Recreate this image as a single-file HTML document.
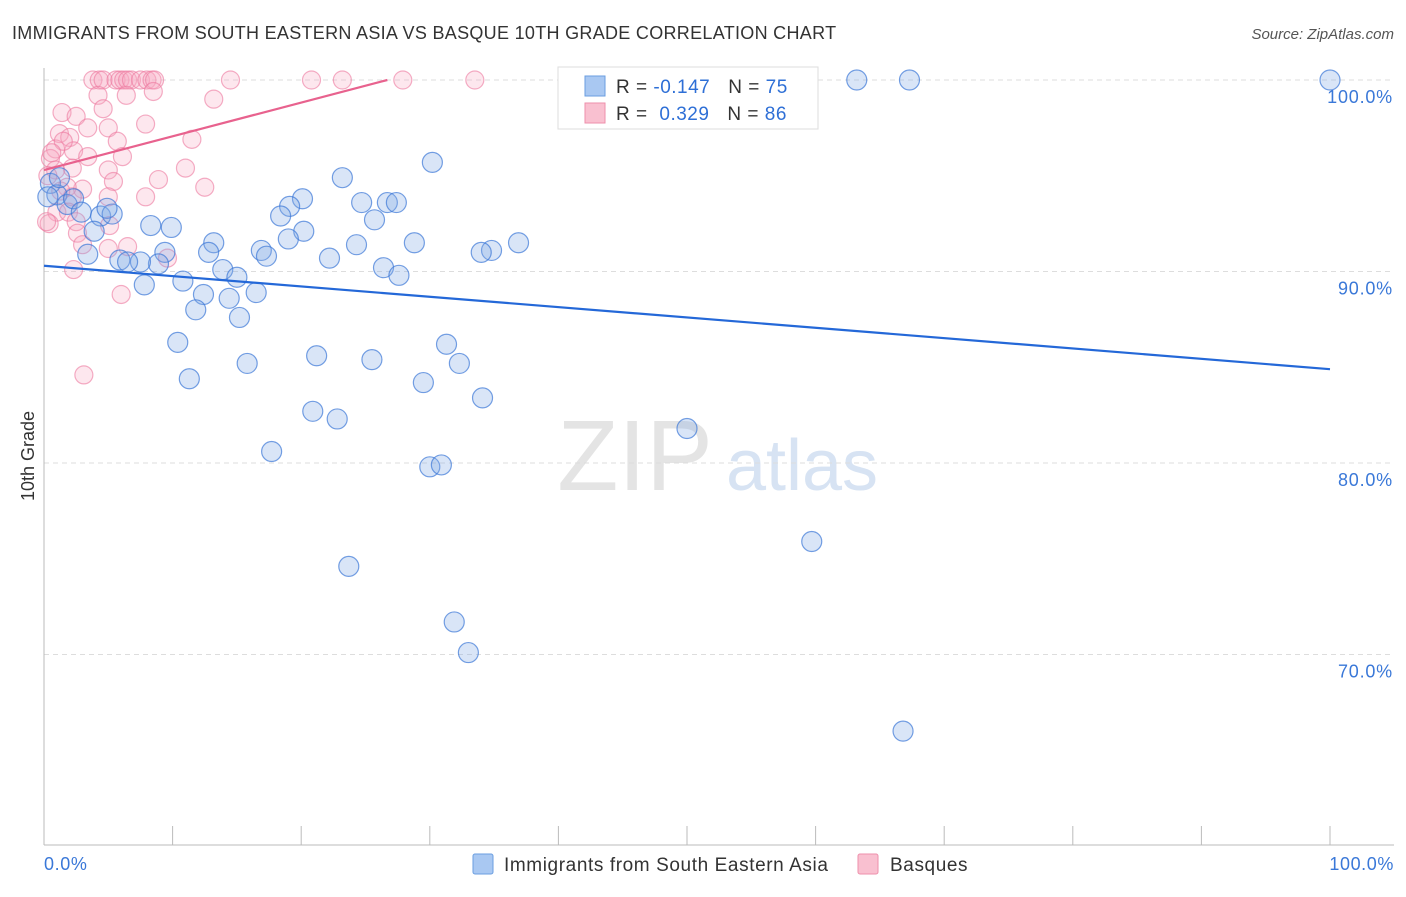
<!DOCTYPE html>
<html><head><meta charset="utf-8"><style>
body{margin:0;background:#fff;font-family:"Liberation Sans",sans-serif;}
svg text{font-family:"Liberation Sans",sans-serif;}
</style></head><body>
<svg id="chart" width="1406" height="892" xmlns="http://www.w3.org/2000/svg">
<text x="12" y="39" font-size="18" fill="#333" letter-spacing="0.3">IMMIGRANTS FROM SOUTH EASTERN ASIA VS BASQUE 10TH GRADE CORRELATION CHART</text>
<text x="1394" y="39" font-size="15" fill="#555" text-anchor="end" font-style="italic">Source: ZipAtlas.com</text>
<text x="34" y="456" font-size="18" fill="#333" text-anchor="middle" transform="rotate(-90 34 456)">10th Grade</text>
<g>
<text x="635" y="490" font-size="100" fill="#e4e4e4" font-family="Liberation Serif" text-anchor="middle">ZIP</text>
<text x="802" y="490" font-size="72" fill="#d7e3f3" text-anchor="middle">atlas</text>
</g>
<g id="grid"></g><g id="axes"></g><g id="pts"></g><g id="lines"></g>
<g>
<rect x="558" y="67" width="260" height="62" fill="#fff" stroke="#ddd"/>
<rect x="585" y="76" width="20" height="20" fill="#a9c8f2" stroke="#6a9ee0"/>
<rect x="585" y="103" width="20" height="20" fill="#f9c0d0" stroke="#ee8fab"/>
<text x="616" y="93" font-size="19" fill="#333" letter-spacing="0.5">R = <tspan fill="#2e6fd6">-0.147</tspan><tspan dx="18">N = </tspan><tspan fill="#2e6fd6">75</tspan></text>
<text x="616" y="120" font-size="19" fill="#333" letter-spacing="0.5">R = <tspan dx="6" fill="#2e6fd6">0.329</tspan><tspan dx="18">N = </tspan><tspan fill="#2e6fd6">86</tspan></text>
</g>
<g>
<rect x="473" y="854" width="20" height="20" fill="#a9c8f2" stroke="#6a9ee0" rx="2"/>
<text x="504" y="871" font-size="19" fill="#333" letter-spacing="0.6">Immigrants from South Eastern Asia</text>
<rect x="858" y="854" width="20" height="20" fill="#f9c0d0" stroke="#ee8fab" rx="2"/>
<text x="890" y="871" font-size="19" fill="#333" letter-spacing="0.6">Basques</text>
</g>
</svg>
<script>
const yTicks=[100,90,80,70];
const xTickLabels=["0.0%","100.0%"];
const blueX=[100,63.2,67.3,43.1,30.2,23.2,20.1,19.1,24.7,26.7,27.4,25.7,18.4,20.2,19.0,24.3,28.8,36.9,34.8,34.0,16.9,17.3,22.2,26.4,27.6,13.2,12.8,9.4,9.9,8.3,13.9,15.0,10.8,12.4,14.4,16.5,7.8,8.9,7.5,5.9,6.5,11.8,15.2,10.4,21.2,25.5,15.8,31.3,32.3,29.5,11.3,34.1,20.9,22.8,50.0,17.7,30.0,30.9,59.7,23.7,31.9,33.0,66.8,0.5,1.0,1.8,2.3,2.9,4.4,5.3,4.9,3.9,3.4,1.2,0.3];
const blueY=[100,100,100,99.9,95.7,94.9,93.8,93.4,93.6,93.6,93.6,92.7,92.9,92.1,91.7,91.4,91.5,91.5,91.1,91.0,91.1,90.8,90.7,90.2,89.8,91.5,91.0,91.0,92.3,92.4,90.1,89.7,89.5,88.8,88.6,88.9,89.3,90.4,90.5,90.6,90.5,88.0,87.6,86.3,85.6,85.4,85.2,86.2,85.2,84.2,84.4,83.4,82.7,82.3,81.8,80.6,79.8,79.9,75.9,74.6,71.7,70.1,66.0,94.6,94.0,93.5,93.8,93.1,92.9,93.0,93.3,92.1,90.9,94.9,93.9];
const pinkX=[3.8,4.3,4.6,5.6,5.9,6.2,6.5,6.8,7.5,8.0,8.4,8.6,14.5,20.8,23.2,27.9,33.5,4.2,6.4,8.5,13.2,4.6,1.4,2.5,3.4,5.0,7.9,5.7,11.5,1.2,2.0,2.3,0.9,1.5,0.5,0.6,3.4,6.1,11.0,5.0,2.2,0.9,8.9,5.4,12.5,3.0,1.8,7.9,5.0,2.2,1.0,1.9,5.1,2.5,2.6,0.4,3.0,5.0,6.5,9.6,2.3,6.0,3.1,0.2,0.3,1.3];
const pinkY=[100,100,100,100,100,100,100,100,100,100,100,100,100,100,100,100,100,99.2,99.2,99.4,99.0,98.5,98.3,98.1,97.5,97.5,97.7,96.8,96.9,97.2,97.0,96.3,96.4,96.8,95.9,96.2,96.0,96.0,95.4,95.3,95.4,95.3,94.8,94.7,94.4,94.3,94.4,93.9,93.9,93.9,93.1,93.1,92.4,92.6,92.0,92.5,91.4,91.2,91.3,90.7,90.1,88.8,84.6,92.6,95.0,94.2];
const blueLine=[90.3,84.9];
const pinkLine=[95.3,100],pinkLineEnd=26.7;
const NS="http://www.w3.org/2000/svg";
const sx=v=>44+v*12.86, sy=v=>80+(100-v)*19.15;
function mk(p,t,a){const e=document.createElementNS(NS,t);for(const k in a)e.setAttribute(k,a[k]);document.getElementById(p).appendChild(e);return e;}
yTicks.forEach(t=>{
 const g=mk('grid','line',{x1:44,x2:1394,y1:sy(t),y2:sy(t),stroke:'#ddd','stroke-dasharray':'5,4'});
 
 
 const tx=mk('grid','text',{x:1393,y:sy(t)+23,'font-size':18,fill:'#3a78d8','text-anchor':'end','letter-spacing':0.8});
 tx.textContent=t.toFixed(1)+'%';
 
 
});
const ax=mk('axes','line',{x1:44,x2:44,y1:68,y2:845,stroke:'#bbb'});


const bx=mk('axes','line',{x1:44,x2:1394,y1:845,y2:845,stroke:'#bbb'});


for(let i=0;i<=10;i++){const l=mk('axes','line',{x1:sx(i*10),x2:sx(i*10),y1:826,y2:845,stroke:'#bbb'});
 
 }
[[0,'start',44],[100,'end',1394]].forEach((d,i)=>{const t=mk('axes','text',{x:d[2],y:870,'font-size':18,fill:'#3a78d8','text-anchor':d[1],'letter-spacing':0.6});t.textContent=xTickLabels[i];
 
 });
pinkX.forEach((x,i)=>{const c=mk('pts','circle',{cx:sx(x),cy:sy(pinkY[i]),r:9,fill:'rgba(248,170,195,0.28)',stroke:'rgba(236,120,158,0.6)','stroke-width':1.2});
 
 });
blueX.forEach((x,i)=>{const c=mk('pts','circle',{cx:sx(x),cy:sy(blueY[i]),r:10,fill:'rgba(130,170,230,0.3)',stroke:'rgba(60,120,215,0.7)','stroke-width':1.2});
 
 });
const bl=mk('lines','line',{x1:sx(0),y1:sy(blueLine[0]),x2:sx(100),y2:sy(blueLine[1]),stroke:'#2468d8','stroke-width':2.2});


const pl=mk('lines','line',{x1:sx(0),y1:sy(pinkLine[0]),x2:sx(pinkLineEnd),y2:sy(pinkLine[1]),stroke:'#e8628e','stroke-width':2.2});


</script>
</body></html>
